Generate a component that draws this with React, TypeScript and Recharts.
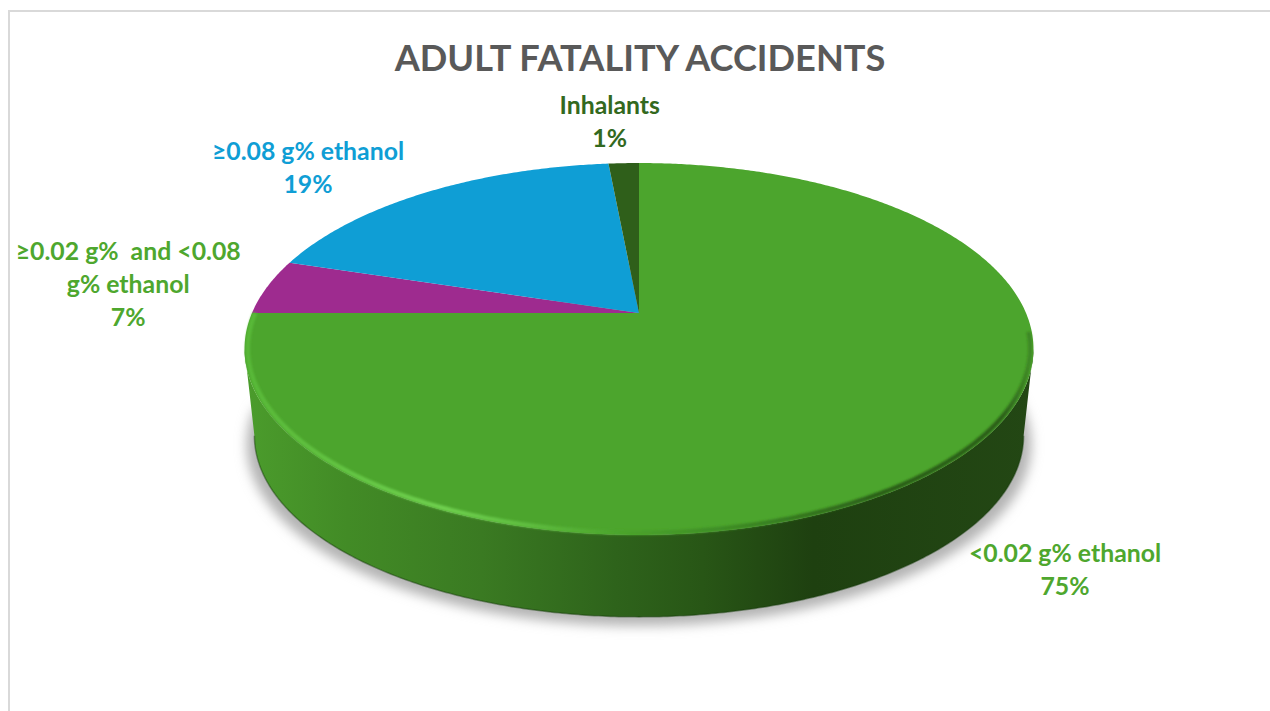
import { PieChart, Pie, Cell } from "recharts";

const CATEGORIES = ["<0.02 g% ethanol", "≥0.02 g%  and <0.08 g% ethanol", "≥0.08 g% ethanol", "Inhalants"];
// slice sizes as drawn in the picture
const SLICE_VALUES = [75, 4.8, 18.7, 1.5];
// percentages as printed on the labels
const LABEL_PERCENTS = ["75%", "7%", "19%", "1%"];
const LABEL_LINES = [["<0.02 g% ethanol"], ["≥0.02 g%  and <0.08", "g% ethanol"], ["≥0.08 g% ethanol"], ["Inhalants"]];
const SLICE_COLORS = ["#4ca52d", "#9e2b8f", "#0f9ed5", "#2f5f1a"];
const LABEL_COLORS = ["#4ea72e", "#4ea72e", "#0f9ed5", "#33691e"];
const LABEL_OFFSETS = [[109, 111], [-139, -2], [-119, -24], [-14, -41]];

const data = CATEGORIES.map((name, i) => ({ name, value: SLICE_VALUES[i] }));

const W = 1270;
const H = 711;
const CX = 639;
const CY = 313;
const R = 387;
const PERSP = 0.1935;
const FLAT = 0.4625;
const ELLIPSE_CY = 349;
const BASE_SCALE = 0.975;
const DEPTH = 86.6;
const FONT = "Lato, 'Open Sans', sans-serif";
// where the disc outline is widest on screen, the wall stops there
const WALL_FROM = -168.8;
const WALL_TO = -11.2;

const rad = (d: number) => (d * Math.PI) / 180;

function project(angle: number, k = 1) {
  const u = Math.cos(rad(angle)) * k;
  const v = Math.sin(rad(angle)) * k;
  const w = 1 + PERSP * v;
  return [CX + (R * u) / w, CY - (FLAT * R * v) / w];
}

function projectBase(angle: number) {
  const [x, y] = project(angle);
  return [CX + (x - CX) * BASE_SCALE, ELLIPSE_CY + (y - ELLIPSE_CY) * BASE_SCALE + DEPTH];
}

function arcPoints(from: number, to: number, fn: (a: number) => number[]) {
  const n = Math.max(2, Math.ceil(Math.abs(to - from) * 2));
  const pts: number[][] = [];
  for (let i = 0; i <= n; i++) pts.push(fn(from + ((to - from) * i) / n));
  return pts;
}

const toPath = (pts: number[][]) =>
  "M" + pts.map((p) => p[0].toFixed(2) + "," + p[1].toFixed(2)).join("L");

function TopFace(props: any) {
  const { startAngle, endAngle, fill } = props;
  const arc = arcPoints(startAngle, endAngle, (a) => project(a));
  return <path d={toPath([[CX, CY], ...arc]) + "Z"} fill={fill} />;
}

// the wall of the disc, only the part facing the viewer
function SideWall(props: any) {
  const { startAngle, endAngle } = props;
  const lo = Math.max(Math.min(startAngle, endAngle), WALL_FROM);
  const hi = Math.min(Math.max(startAngle, endAngle), WALL_TO);
  if (hi <= lo) return null;
  const top = arcPoints(lo, hi, (a) => project(a));
  const base = arcPoints(hi, lo, projectBase);
  return (
    <g>
      <path d={toPath([...top, ...base]) + "Z"} fill="url(#wallGradient)" />
      <path d={toPath(base)} fill="none" stroke="#143a08" strokeOpacity={0.45} strokeWidth={1.5} />
    </g>
  );
}

function GroundShadow(props: any) {
  const { startAngle, endAngle } = props;
  if (startAngle - endAngle < 100) return null;
  const base = arcPoints(startAngle, endAngle, projectBase).map((p) => [CX + (p[0] - CX) * 1.02, p[1] + 9]);
  return <path d={toPath(base) + "Z"} fill="#b4b4b4" filter="url(#shadowBlur)" />;
}

function RimLight(props: any) {
  const { startAngle, endAngle } = props;
  if (startAngle - endAngle < 100) return null;
  const arc = arcPoints(-180, -6, (a) => project(a, 0.992));
  return <path d={toPath(arc)} fill="none" stroke="url(#rimGradient)" strokeWidth={4.5} filter="url(#rimBlur)" />;
}

function renderLabel(props: any) {
  const { midAngle, index } = props;
  const [ax, ay] = project(midAngle);
  const x = ax + LABEL_OFFSETS[index][0];
  const y = ay + LABEL_OFFSETS[index][1];
  const lines = [...LABEL_LINES[index], LABEL_PERCENTS[index]];
  return (
    <text
      key={index}
      textAnchor="middle"
      fontFamily={FONT}
      fontSize={24.8}
      fontWeight={700}
      fill={LABEL_COLORS[index]}
      style={{ whiteSpace: "pre" }}
    >
      {lines.map((line, i) => (
        <tspan key={i} x={x} y={y + (i - (lines.length - 1) / 2) * 33 + 8}>
          {line}
        </tspan>
      ))}
    </text>
  );
}

const pieProps = {
  data,
  dataKey: "value",
  nameKey: "name",
  cx: CX,
  cy: CY,
  innerRadius: 0,
  outerRadius: R,
  startAngle: 90,
  endAngle: -270,
  stroke: "none",
  isAnimationActive: false,
  legendType: "none" as const,
  labelLine: false,
};

export default function App() {
  return (
    <div style={{ position: "absolute", left: 0, top: 0, width: W, height: H, background: "#fff", overflow: "hidden" }}>
      <div style={{ position: "absolute", left: 8, top: 10, width: W, height: H, border: "2px solid #d9d9d9", boxSizing: "border-box" }} />
      <PieChart width={W} height={H} margin={{ top: 0, right: 0, bottom: 0, left: 0 }} style={{ position: "absolute", left: 0, top: 0 }}>
        <defs>
          <linearGradient id="wallGradient" gradientUnits="userSpaceOnUse" x1={245} y1={0} x2={1034} y2={0}>
            <stop offset="0" stopColor="#4b9c2c" />
            <stop offset="0.13" stopColor="#428b26" />
            <stop offset="0.3" stopColor="#3a7a22" />
            <stop offset="0.47" stopColor="#2e631b" />
            <stop offset="0.58" stopColor="#285616" />
            <stop offset="0.72" stopColor="#1e4010" />
            <stop offset="1" stopColor="#234714" />
          </linearGradient>
          <linearGradient id="rimGradient" gradientUnits="userSpaceOnUse" x1={245} y1={0} x2={1034} y2={0}>
            <stop offset="0" stopColor="#58b838" />
            <stop offset="0.25" stopColor="#6fd04f" />
            <stop offset="0.34" stopColor="#62c143" />
            <stop offset="0.47" stopColor="#4ca52d" />
            <stop offset="0.62" stopColor="#3d8a24" />
            <stop offset="0.8" stopColor="#2b5f19" />
            <stop offset="0.96" stopColor="#2b5f19" />
            <stop offset="1" stopColor="#2b5f19" stopOpacity={0.3} />
          </linearGradient>
          <filter id="shadowBlur" x="-10%" y="-10%" width="120%" height="120%">
            <feGaussianBlur stdDeviation="6" />
          </filter>
          <filter id="rimBlur" x="-5%" y="-5%" width="110%" height="110%">
            <feGaussianBlur stdDeviation="1.2" />
          </filter>
        </defs>
        <text x={640} y={71} textAnchor="middle" fontFamily={FONT} fontSize={36.2} fontWeight={700} fill="#595959">
          ADULT FATALITY ACCIDENTS
        </text>
        <Pie {...pieProps} shape={GroundShadow} />
        <Pie {...pieProps} shape={SideWall} />
        <Pie {...pieProps} shape={TopFace} label={renderLabel}>
          {data.map((_, i) => (
            <Cell key={i} fill={SLICE_COLORS[i]} />
          ))}
        </Pie>
        <Pie {...pieProps} shape={RimLight} />
      </PieChart>
    </div>
  );
}
